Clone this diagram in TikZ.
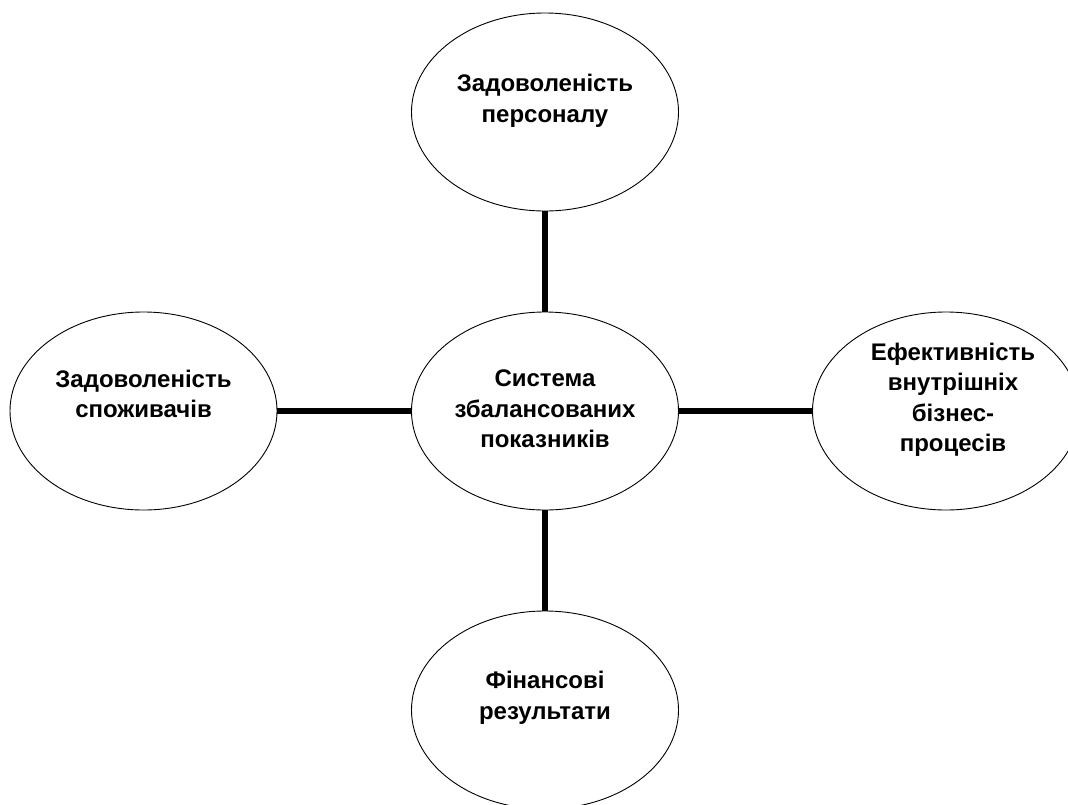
\documentclass[tikz,border=0pt]{standalone}
\usepackage{fontspec}
\setmainfont{Liberation Sans}
\usetikzlibrary{shapes.geometric}
\begin{document}
\begin{tikzpicture}[x=1pt,y=-1pt,
  oval/.style={draw=black,line width=0.9pt,ellipse,minimum width=267pt,minimum height=198pt,inner sep=0pt},
  txt/.style={font=\bfseries\fontsize{24}{30.5}\selectfont,align=center,inner sep=0pt},
  link/.style={draw=black,line width=5.5pt}]
\useasboundingbox (0,0) rectangle (1068,804);
\node[oval] (top) at (545,112) {};
\node[oval] (mid) at (545,411) {};
\node[oval] (left) at (143.5,411) {};
\node[oval] (right) at (946,411) {};
\node[oval] (bot) at (545,710) {};
\node[txt] (ttop) at (545,101) {Задоволеність\\персоналу};
\node[txt] (tmid) at (545,409) {Система\\збалансованих\\показників};
\node[txt] (tleft) at (143.5,394) {Задоволеність\\споживачів};
\node[txt] (tright) at (953,400) {Ефективність\\внутрішніх\\бізнес-\\процесів};
\node[txt] (tbot) at (545,698) {Фінансові\\результати};
\draw[link] (top) -- (mid);
\draw[link] (mid) -- (bot);
\draw[link] (left) -- (mid);
\draw[link] (mid) -- (right);
\end{tikzpicture}
\end{document}
